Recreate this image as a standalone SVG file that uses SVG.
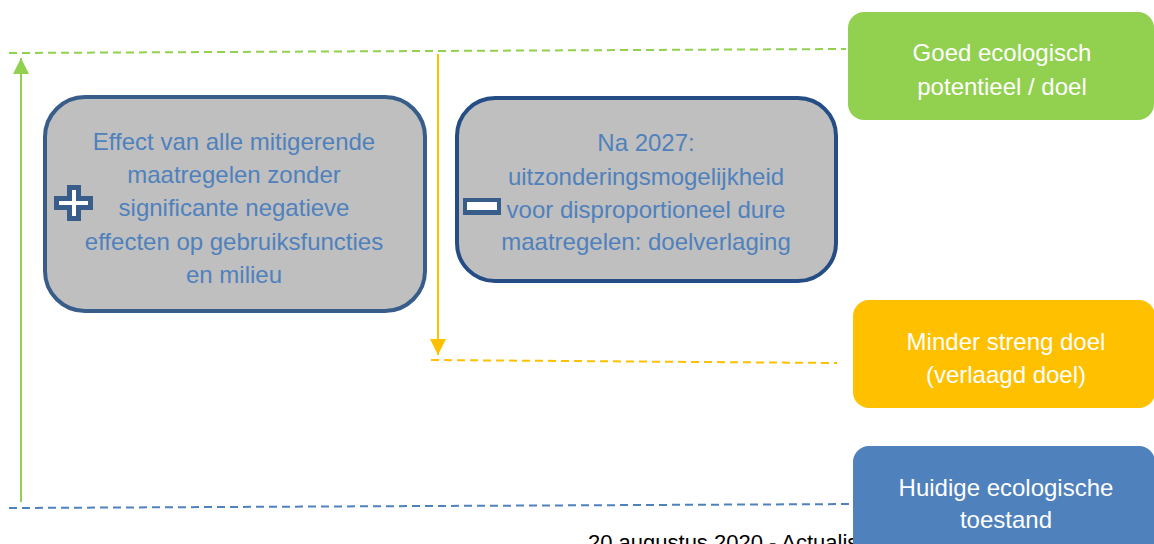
<svg xmlns="http://www.w3.org/2000/svg" width="1154" height="544" viewBox="0 0 1154 544">
<style>
.lbl{font-family:"Liberation Sans",Arial,sans-serif;font-size:24px;text-anchor:middle}
.in{fill:#4f81bd}
.wt{fill:#ffffff}
.box{fill:#bfbfbf;stroke-width:4}
</style>
<defs>
<marker id="ag" viewBox="0 0 10 10" refX="10" refY="5" markerWidth="16" markerHeight="16" markerUnits="userSpaceOnUse" orient="auto"><path d="M0,0 L10,5 L0,10 z" fill="#92d050"/></marker>
<marker id="ay" viewBox="0 0 10 10" refX="10" refY="5" markerWidth="16" markerHeight="16" markerUnits="userSpaceOnUse" orient="auto"><path d="M0,0 L10,5 L0,10 z" fill="#ffc000"/></marker>
</defs>
<g id="connectors" fill="none">
<line x1="9" y1="53" x2="846" y2="49" stroke="#92d050" stroke-width="2" stroke-dasharray="8,5"/>
<line x1="431" y1="360" x2="837" y2="363" stroke="#ffc000" stroke-width="2" stroke-dasharray="8,5"/>
<line x1="9" y1="508" x2="856" y2="504" stroke="#4f81bd" stroke-width="2" stroke-dasharray="8,5"/>
<line x1="21" y1="502" x2="21" y2="58" stroke="#92d050" stroke-width="2" marker-end="url(#ag)"/>
<line x1="438" y1="54" x2="438" y2="355" stroke="#ffc000" stroke-width="2" marker-end="url(#ay)"/>
</g>
<g id="footer">
<text x="588" y="550" font-family="'Liberation Sans',Arial,sans-serif" font-size="22" fill="#000">20 augustus 2020 - Actualis</text>
</g>
<g id="box-effect">
<rect class="box" x="45" y="97" width="380" height="214" rx="40" stroke="#385d8a"/>
<text class="lbl in"><tspan x="234" y="150">Effect van alle mitigerende</tspan><tspan x="234" y="183">maatregelen zonder</tspan><tspan x="234" y="216">significante negatieve</tspan><tspan x="234" y="250">effecten op gebruiksfuncties</tspan><tspan x="234" y="283">en milieu</tspan></text>
<path d="M67,185 H81 V196 H93 V210 H81 V221 H67 V210 H54 V196 H67 Z" fill="#385d8a"/>
<path d="M72,190 H76 V201 H88 V205 H76 V216 H72 V205 H59 V201 H72 Z" fill="#ffffff"/>
</g>
<g id="box-na2027">
<rect class="box" x="457" y="98" width="379" height="183" rx="38" stroke="#254d85"/>
<text class="lbl in"><tspan x="646" y="151">Na 2027:</tspan><tspan x="646" y="185">uitzonderingsmogelijkheid</tspan><tspan x="646" y="218">voor disproportioneel dure</tspan><tspan x="646" y="250">maatregelen: doelverlaging</tspan></text>
<rect x="463" y="198" width="38" height="17" fill="#385d8a"/>
<rect x="467" y="202" width="30" height="8" fill="#ffffff"/>
</g>
<g id="goal-good">
<rect x="848" y="12" width="306" height="108" rx="16" fill="#92d050"/>
<text class="lbl wt"><tspan x="1002" y="61">Goed ecologisch</tspan><tspan x="1002" y="95">potentieel / doel</tspan></text>
</g>
<g id="goal-lower">
<rect x="853" y="300" width="302" height="108" rx="16" fill="#ffc000"/>
<text class="lbl wt"><tspan x="1006" y="350">Minder streng doel</tspan><tspan x="1006" y="383">(verlaagd doel)</tspan></text>
</g>
<g id="state-current">
<rect x="853" y="446" width="302" height="120" rx="16" fill="#4f81bd"/>
<text class="lbl wt"><tspan x="1006" y="496">Huidige ecologische</tspan><tspan x="1006" y="528">toestand</tspan></text>
</g>
</svg>
